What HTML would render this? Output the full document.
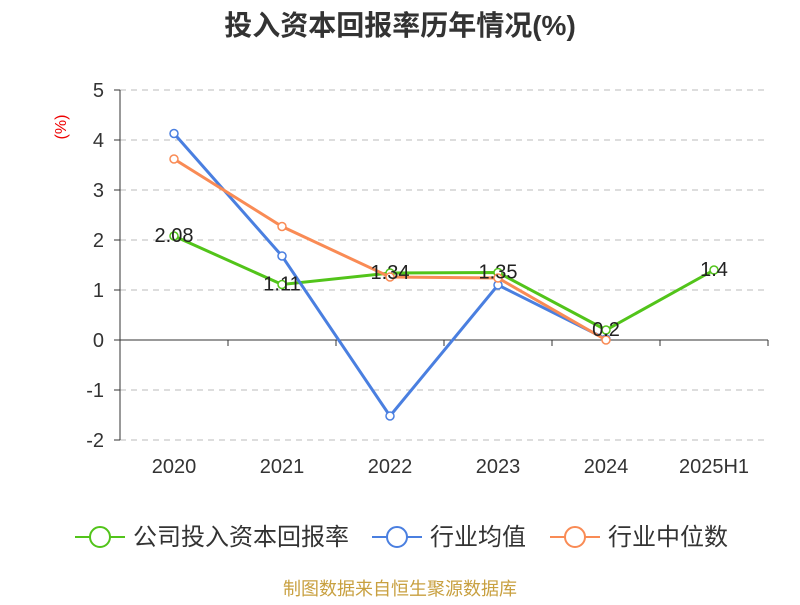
<!DOCTYPE html>
<html><head><meta charset="utf-8"><style>
body{margin:0;background:#fff;}
svg text{font-family:"Liberation Sans","Noto Sans CJK SC",sans-serif;}
</style></head><body>
<svg id="chart" width="800" height="600" xmlns="http://www.w3.org/2000/svg">
<text x="400" y="35" text-anchor="middle" font-size="28" font-weight="bold" fill="#333">投入资本回报率历年情况(%)</text>
<text x="66" y="127" text-anchor="middle" font-size="16" fill="#e00" transform="rotate(-90 66 127)">(%)</text>
<g id="grid"></g><g id="axes"></g><g id="series"></g><g id="legend"></g>
<text x="400" y="595" text-anchor="middle" font-size="18" fill="#c8a040">制图数据来自恒生聚源数据库</text>
</svg>
<script>
const categories=["2020","2021","2022","2023","2024","2025H1"];
const companyValues=[2.08,1.11,1.34,1.35,0.2,1.4];
const companyLabels=["2.08","1.11","1.34","1.35","0.2","1.4"];
const industryAvg=[4.13,1.68,-1.52,1.1,0.02,null];
const industryMedian=[3.62,2.27,1.26,1.24,0.0,null];
const yTicks=[5,4,3,2,1,0,-1,-2];
const NS="http://www.w3.org/2000/svg";
const x0=120,x1=768,bw=(x1-x0)/categories.length;
const X=i=>x0+bw*(i+0.5);
const Y=v=>340-v*50;
function mk(tag,attrs,parent){const e=document.createElementNS(NS,tag);for(const k in attrs)e.setAttribute(k,attrs[k]);parent.appendChild(e);return e;}
const grid=document.getElementById('grid'),axes=document.getElementById('axes'),series=document.getElementById('series'),legend=document.getElementById('legend');
yTicks.forEach(t=>{
 if(t!==0){const l=mk('line',{x1:x0,x2:x1,y1:Y(t),y2:Y(t),stroke:'#bbb','stroke-dasharray':'6,5'},grid);
 
 }
 const tx=mk('text',{x:104,y:Y(t)+7,'text-anchor':'end','font-size':20,fill:'#333'},axes);tx.textContent=t;
 
 
 const tk=mk('line',{x1:114,x2:x0,y1:Y(t),y2:Y(t),stroke:'#333'},axes);
 
 
});
const ya=mk('line',{x1:x0,x2:x0,y1:Y(5),y2:Y(-2),stroke:'#333'},axes);


const xa=mk('line',{x1:x0,x2:x1,y1:Y(0),y2:Y(0),stroke:'#333'},axes);


for(let i=0;i<=categories.length;i++){const t=mk('line',{x1:x0+bw*i,x2:x0+bw*i,y1:Y(0),y2:Y(0)+6,stroke:'#333'},axes);
 
 }
categories.forEach((c,i)=>{const t=mk('text',{x:X(i),y:473,'text-anchor':'middle','font-size':20,fill:'#333'},axes);t.textContent=c;
 
 });
function drawSeries(vals,color,name){
 const g=mk('g',{},series);
 
 
 const pts=vals.map((v,i)=>v==null?null:[X(i),Y(v)]).filter(p=>p);
 const pl=mk('polyline',{points:pts.map(p=>p.join(',')).join(' '),fill:'none',stroke:color,'stroke-width':3},g);
 
 
 pts.forEach(p=>{const c=mk('circle',{cx:p[0],cy:p[1],r:4,fill:'#fff',stroke:color,'stroke-width':1.5},g);
  
  });
}
drawSeries(companyValues,'#52c41a','company-series');
drawSeries(industryAvg,'#4a7fe0','industry-avg-series');
drawSeries(industryMedian,'#f98b55','industry-median-series');
companyValues.forEach((v,i)=>{const t=mk('text',{x:X(i),y:Y(v)+6,'text-anchor':'middle','font-size':20,fill:'#222'},series);t.textContent=companyLabels[i];
 
 });
const leg=[["公司投入资本回报率",'#52c41a',75],["行业均值",'#4a7fe0',372],["行业中位数",'#f98b55',550]];
leg.forEach(([n,c,x])=>{
 const g=mk('g',{},legend);
 
 
 mk('line',{x1:x,x2:x+50,y1:537,y2:537,stroke:c,'stroke-width':2},g);
 mk('circle',{cx:x+25,cy:537,r:10,fill:'#fff',stroke:c,'stroke-width':2},g);
 const t=mk('text',{x:x+58,y:545,'font-size':24,fill:'#333'},g);t.textContent=n;
});
</script>
</body></html>
